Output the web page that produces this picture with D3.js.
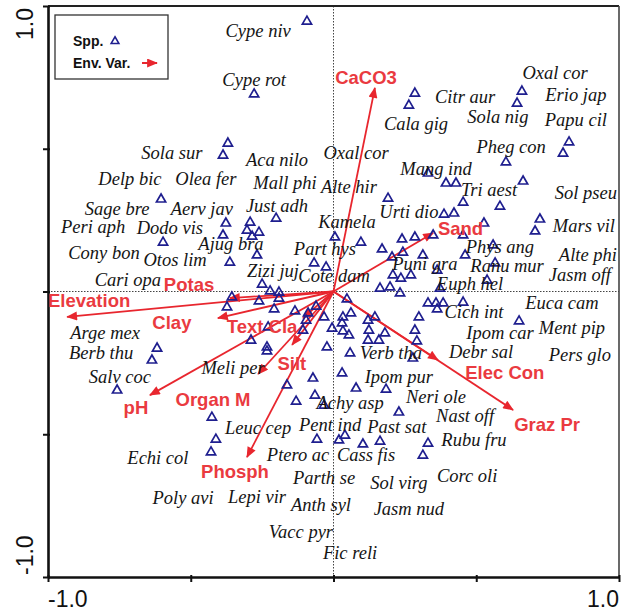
<!DOCTYPE html>
<html>
<head>
<meta charset="utf-8">
<script src="https://cdn.jsdelivr.net/npm/d3@7"></script>
<style>
  html, body { margin: 0; padding: 0; background: #fff; }
  svg { display: block; }
</style>
</head>
<body>
<svg id="chart" width="629" height="611"></svg>
<script>
// Species scores (axis 1, axis 2)
const spX = [-0.093,-0.278,-0.370,-0.387,-0.604,-0.597,-0.377,-0.292,-0.201,-0.387,
  -0.303,-0.261,-0.285,-0.363,-0.268,-0.068,-0.026,0.005,-0.250,-0.222,
  -0.191,-0.191,-0.356,-0.373,-0.261,-0.208,-0.135,-0.089,-0.096,-0.061,
  -0.033,-0.229,-0.107,-0.005,-0.289,-0.233,-0.233,-0.023,-0.618,-0.636,
  -0.758,-0.072,-0.163,-0.131,-0.065,-0.033,-0.426,-0.412,-0.429,-0.058,
  0.019,0.040,0.103,0.163,0.331,0.313,0.096,0.170,0.240,0.285,
  0.349,0.454,0.527,0.205,0.243,0.313,0.461,0.559,0.566,0.363,
  0.208,0.236,0.271,0.163,0.198,0.233,0.538,0.373,0.331,0.359,
  0.384,0.363,0.454,0.047,0.061,0.033,0.030,0.033,0.054,0.121,
  0.145,0.124,0.180,0.121,0.159,0.299,0.285,0.292,0.650,0.058,
  0.278,0.030,0.079,0.184,0.229,0.285,0.264,0.660,0.643,0.825,
  0.804,0.604,0.331,0.394,0.429,0.664,0.191,0.454,0.583,0.387,
  0.422,0.723,0.706];
const spY = [0.947,0.692,0.520,0.478,0.324,0.173,0.240,0.243,0.257,0.198,
  0.215,0.208,0.194,0.103,0.128,0.100,0.086,0.191,0.026,0.002,
  -0.002,-0.023,-0.019,-0.054,-0.033,-0.061,-0.068,-0.075,-0.100,-0.051,
  -0.089,-0.124,-0.135,-0.128,-0.170,-0.194,-0.208,-0.194,-0.198,-0.240,
  -0.345,-0.303,-0.327,-0.384,-0.363,-0.398,-0.440,-0.517,-0.562,-0.517,
  -0.520,-0.503,-0.534,-0.524,-0.531,-0.573,0.173,0.149,0.184,0.191,
  0.198,0.198,0.240,0.121,0.138,0.128,0.128,0.163,0.100,0.075,
  0.058,0.047,0.058,0.012,0.016,-0.005,0.040,0.012,-0.040,-0.040,
  -0.040,-0.061,-0.037,-0.026,-0.075,-0.089,-0.110,-0.138,-0.152,-0.100,
  -0.089,-0.135,-0.145,-0.170,-0.170,-0.089,-0.135,-0.173,-0.103,-0.215,
  -0.233,-0.285,-0.338,-0.342,-0.422,0.695,0.653,0.702,0.660,0.524,
  0.485,0.454,0.415,0.380,0.380,0.387,0.327,0.313,0.299,0.271,
  0.275,0.254,0.212];

// Species names and their label anchor scores
const spNames = ["Cype niv","Cype rot","Sola sur","Aca nilo","Oxal cor","Delp bic","Olea fer","Mall phi",
  "Alte hir","Sage bre","Aerv jav","Just adh","Urti dio","Kamela","Peri aph","Dodo vis","Ajug bra",
  "Part hys","Cony bon","Otos lim","Zizi juj","Cote dam","Cari opa","Citr aur","Oxal cor","Erio jap",
  "Cala gig","Sola nig","Papu cil","Pheg con","Mang ind","Tri aest","Sol pseu","Mars vil","Phys ang",
  "Alte phi","Puni gra","Ranu mur","Jasm off","Euph hel","Euca cam","Cich int","Ment pip","Ipom car",
  "Debr sal","Pers glo","Verb tha","Ipom pur","Neri ole","Achy asp","Nast off","Pent ind","Past sat",
  "Rubu fru","Ptero ac","Cass fis","Leuc cep","Meli per","Parth se","Sol virg","Corc oli","Anth syl",
  "Jasm nud","Vacc pyr","Fic reli","Echi col","Poly avi","Lepi vir","Arge mex","Berb thu","Salv coc"];
const spLabelX = [-0.264,-0.278,-0.566,-0.198,0.079,-0.713,-0.447,-0.170,
  0.054,-0.758,-0.461,-0.198,0.264,0.047,-0.842,-0.573,-0.359,
  -0.030,-0.804,-0.555,-0.212,0.002,-0.720,0.461,0.776,0.849,
  0.289,0.576,0.849,0.622,0.359,0.545,0.884,0.877,0.583,
  0.891,0.320,0.608,0.863,0.478,0.800,0.492,0.835,0.583,
  0.517,0.863,0.201,0.229,0.359,0.058,0.461,-0.012,0.222,
  0.492,-0.124,0.114,-0.264,-0.352,-0.033,0.229,0.468,-0.044,
  0.264,-0.114,0.058,-0.615,-0.527,-0.268,-0.800,-0.814,-0.748];
const spLabelY = [0.912,0.741,0.485,0.461,0.485,0.394,0.394,0.380,
  0.366,0.289,0.289,0.299,0.278,0.243,0.226,0.222,0.166,
  0.149,0.135,0.110,0.072,0.054,0.040,0.681,0.765,0.688,
  0.587,0.611,0.601,0.506,0.429,0.356,0.345,0.229,0.156,
  0.128,0.096,0.089,0.058,0.026,-0.040,-0.072,-0.128,-0.146,
  -0.212,-0.222,-0.215,-0.299,-0.370,-0.391,-0.436,-0.468,-0.475,
  -0.520,-0.573,-0.573,-0.478,-0.268,-0.653,-0.671,-0.646,-0.748,
  -0.762,-0.842,-0.916,-0.583,-0.723,-0.720,-0.145,-0.215,-0.299];

// Environmental variables: arrow tips and label anchors
const envNames = ["CaCO3","Sand","Elec Con","Graz Pr","Phosph","Silt","Organ M","pH","Text Cla","Clay","Potas","Elevation"];
const envX = [0.145,0.349,0.366,0.629,-0.303,-0.145,-0.264,-0.643,-0.107,-0.405,-0.363,-0.933];
const envY = [0.713,0.205,-0.240,-0.415,-0.580,-0.187,-0.289,-0.363,-0.093,-0.093,-0.023,-0.089];
const envLabelX = [0.114,0.445,0.600,0.748,-0.345,-0.146,-0.422,-0.692,-0.250,-0.566,-0.506,-0.856];
const envLabelY = [0.748,0.219,-0.285,-0.467,-0.632,-0.254,-0.377,-0.405,-0.124,-0.107,0.026,-0.030];

// Axes
const tickValues = [-1, -0.5, 0, 0.5, 1];
const tickLabels = ["-1.0", "1.0"];
const legendItems = ["Spp.", "Env. Var."];

const spColor = "#1f1f8f";
const envColor = "#e8262e";
const envTextColor = "#ea3a40";

const svg = d3.select("#chart");
const x = d3.scaleLinear().domain([-1, 1]).range([48, 619]);
const y = d3.scaleLinear().domain([-1, 1]).range([577, 6]);

// arrowhead
const defs = svg.append("defs");
defs.append("marker")
  .attr("id", "head")
  .attr("viewBox", "0 0 12 10")
  .attr("refX", 11).attr("refY", 5)
  .attr("markerWidth", 12).attr("markerHeight", 9)
  .attr("markerUnits", "userSpaceOnUse")
  .attr("orient", "auto")
  .append("path").attr("d", "M0,0 L12,5 L0,10 Z").attr("fill", envColor);

// dotted zero lines
svg.append("line")
  .attr("x1", x(0)).attr("x2", x(0)).attr("y1", y(1)).attr("y2", y(-1))
  .attr("stroke", "#444").attr("stroke-width", 1).attr("stroke-dasharray", "1.5,1.5");
svg.append("line")
  .attr("x1", x(-1)).attr("x2", x(1)).attr("y1", y(0)).attr("y2", y(0))
  .attr("stroke", "#444").attr("stroke-width", 1).attr("stroke-dasharray", "1.5,1.5");

// frame (top and right)
svg.append("line").attr("x1", x(-1)).attr("x2", x(1)).attr("y1", y(1)).attr("y2", y(1))
  .attr("stroke", "#222").attr("stroke-width", 2);
svg.append("line").attr("x1", x(1)).attr("x2", x(1)).attr("y1", y(1)).attr("y2", y(-1))
  .attr("stroke", "#444").attr("stroke-width", 1.6);

// bottom & left axes
const xAxis = d3.axisBottom(x).tickValues(tickValues).tickFormat("").tickSizeInner(5).tickSizeOuter(0);
const yAxis = d3.axisLeft(y).tickValues(tickValues).tickFormat("").tickSizeInner(5).tickSizeOuter(0);
const gx = svg.append("g").attr("transform", `translate(0,${y(-1)})`).call(xAxis);
const gy = svg.append("g").attr("transform", `translate(${x(-1)},0)`).call(yAxis);
[gx, gy].forEach(g => {
  g.select(".domain").attr("stroke", "#111").attr("stroke-width", 2.6);
  g.selectAll(".tick line").attr("stroke", "#111").attr("stroke-width", 2);
});
gx.selectAll(".tick line").attr("y1", -2);
gy.selectAll(".tick line").attr("x1", 2);

// axis end labels
const axisFont = "Liberation Sans, Arial, sans-serif";
svg.append("text").attr("x", x(-1)).attr("y", 607).attr("text-anchor", "start")
  .attr("font-family", axisFont).attr("font-size", 23).attr("fill", "#111").text(tickLabels[0]);
svg.append("text").attr("x", x(1)).attr("y", 607).attr("text-anchor", "end")
  .attr("font-family", axisFont).attr("font-size", 23).attr("fill", "#111").text(tickLabels[1]);
svg.append("text").attr("transform", `translate(33,${y(1) + 2}) rotate(-90)`).attr("text-anchor", "end")
  .attr("font-family", axisFont).attr("font-size", 23).attr("fill", "#111").text(tickLabels[1]);
svg.append("text").attr("transform", `translate(33,${y(-1) - 2}) rotate(-90)`).attr("text-anchor", "start")
  .attr("font-family", axisFont).attr("font-size", 23).attr("fill", "#111").text(tickLabels[0]);

// environmental arrows
const env = envNames.map((n, i) => ({ n, x: envX[i], y: envY[i], lx: envLabelX[i], ly: envLabelY[i] }));
svg.append("g").selectAll("line").data(env).join("line")
  .attr("x1", x(0)).attr("y1", y(0))
  .attr("x2", d => x(d.x)).attr("y2", d => y(d.y))
  .attr("stroke", envColor).attr("stroke-width", 1.8)
  .attr("marker-end", "url(#head)");

// species triangles
const tri = "M0,-5 L4.6,3 L-4.6,3 Z";
const sp = spX.map((v, i) => ({ x: v, y: spY[i] }));
svg.append("g").selectAll("path").data(sp).join("path")
  .attr("d", tri)
  .attr("transform", d => `translate(${x(d.x)},${y(d.y)})`)
  .attr("fill", "none").attr("stroke", spColor).attr("stroke-width", 1.7);

// species labels
const spl = spNames.map((n, i) => ({ n, x: spLabelX[i], y: spLabelY[i] }));
svg.append("g").selectAll("text").data(spl).join("text")
  .attr("x", d => x(d.x)).attr("y", d => y(d.y)).attr("dy", "0.32em")
  .attr("text-anchor", "middle")
  .attr("font-family", "Liberation Serif, Times New Roman, serif")
  .attr("font-style", "italic").attr("font-size", 18.5).attr("fill", "#151515")
  .text(d => d.n);

// environmental labels
svg.append("g").selectAll("text").data(env).join("text")
  .attr("x", d => x(d.lx)).attr("y", d => y(d.ly)).attr("dy", "0.35em")
  .attr("text-anchor", "middle")
  .attr("font-family", "Liberation Sans, Arial, sans-serif")
  .attr("font-weight", "bold").attr("font-size", 18.5).attr("fill", envTextColor)
  .text(d => d.n);

// legend
const lg = svg.append("g");
lg.append("rect").attr("x", 55).attr("y", 15).attr("width", 113).attr("height", 64)
  .attr("fill", "#fff").attr("stroke", "#333").attr("stroke-width", 1.3);
lg.append("text").attr("x", 73).attr("y", 46).attr("font-family", "Liberation Sans, Arial, sans-serif")
  .attr("font-weight", "bold").attr("font-size", 14).attr("fill", "#111").text(legendItems[0]);
lg.append("text").attr("x", 73).attr("y", 68).attr("font-family", "Liberation Sans, Arial, sans-serif")
  .attr("font-weight", "bold").attr("font-size", 14).attr("fill", "#111").text(legendItems[1]);
lg.append("path").attr("d", tri).attr("transform", "translate(115,41) scale(0.85)")
  .attr("fill", "none").attr("stroke", spColor).attr("stroke-width", 1.8);
lg.append("line").attr("x1", 142).attr("x2", 157).attr("y1", 63).attr("y2", 63)
  .attr("stroke", envColor).attr("stroke-width", 2).attr("marker-end", "url(#head)");
</script>
</body>
</html>
